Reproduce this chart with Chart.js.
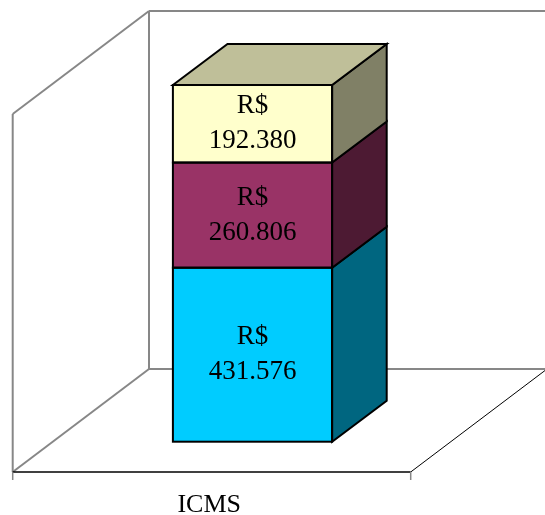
<!DOCTYPE html>
<html>
<head>
<meta charset="utf-8">
<script src="https://cdn.jsdelivr.net/npm/chart.js@4/dist/chart.umd.min.js"></script>
<style>
  html, body { margin: 0; padding: 0; background: #fff; }
  #wrap { width: 545px; height: 515px; position: relative; }
</style>
</head>
<body>
<div id="wrap"><canvas id="c" width="545" height="515"></canvas></div>
<script>
// ---- data ----
const categories = ["ICMS"];
const seriesCyan = [431576];
const seriesPlum = [260806];
const seriesYellow = [192380];
const valuePrefix = "R$";
const axisMax = 888000;

// ---- styles ----
const frontColors = ["#00CCFF", "#993366", "#FFFFCC"];
const sideColors = ["#006680", "#4D1A33", "#808066"];
const topColor = "#BFBF99";
const gridGray = "#878787";
const serif = "'Liberation Serif', 'Times New Roman', serif";

// 3D geometry (relative to the bar front plane)
const FRONT = { dx: -40.8, dy: 30.3 };  // floor front edge offset
const BACK = { dx: 95.5, dy: -72.7 };   // back wall offset
const BAR_DEPTH = { dx: 54.6, dy: -41 }; // bar depth

function fmt(v) {
  const s = String(Math.round(v));
  return s.replace(/\B(?=(\d{3})+(?!\d))/g, ".");
}

function line(ctx, x1, y1, x2, y2, color, w) {
  ctx.beginPath();
  ctx.moveTo(x1, y1);
  ctx.lineTo(x2, y2);
  ctx.strokeStyle = color;
  ctx.lineWidth = w;
  ctx.stroke();
}

const box3d = {
  id: "box3d",
  beforeDatasetsDraw(chart) {
    const ctx = chart.ctx;
    const a = chart.chartArea;
    const L = a.left, R = a.right, T = a.top, B = a.bottom;
    ctx.save();
    ctx.lineCap = "butt";
    const fl = L + FRONT.dx, fr = R + FRONT.dx, fb = B + FRONT.dy, ft = T + FRONT.dy;
    const bl = L + BACK.dx, br = R + BACK.dx, bb = B + BACK.dy, bt = T + BACK.dy;
    // left wall
    line(ctx, fl, ft, fl, fb, gridGray, 2);
    line(ctx, fl, ft, bl, bt, gridGray, 2);
    // back wall
    line(ctx, bl, bt, bl, bb, gridGray, 2);
    line(ctx, bl, bt, br, bt, gridGray, 2);
    // floor
    line(ctx, fl, fb, bl, bb, gridGray, 2);
    line(ctx, bl, bb, br, bb, gridGray, 2);
    line(ctx, fr, fb, br, bb, "#000", 1);
    line(ctx, fl, fb, fr, fb, "#000", 1.3);
    // ticks
    line(ctx, fl, fb, fl, fb + 8, gridGray, 1.5);
    line(ctx, fr, fb, fr, fb + 8, gridGray, 1.5);
    // category label
    const xs = chart.scales.x;
    ctx.fillStyle = "#000";
    ctx.font = "26px " + serif;
    ctx.textAlign = "center";
    ctx.textBaseline = "alphabetic";
    categories.forEach((c, i) => {
      ctx.fillText(c, xs.getPixelForValue(i) + FRONT.dx - 2.5, fb + 40);
    });
    ctx.restore();
  },
  afterDatasetsDraw(chart) {
    const ctx = chart.ctx;
    ctx.save();
    ctx.lineJoin = "miter";
    const n = chart.data.datasets.length;
    chart.data.datasets.forEach((ds, di) => {
      const meta = chart.getDatasetMeta(di);
      meta.data.forEach((bar, i) => {
        const p = bar.getProps(["x", "y", "base", "width"], true);
        const left = p.x - p.width / 2, right = p.x + p.width / 2;
        const top = Math.min(p.y, p.base), bot = Math.max(p.y, p.base);
        ctx.lineWidth = 2;
        ctx.strokeStyle = "#000";
        // side face
        ctx.beginPath();
        ctx.moveTo(right, top);
        ctx.lineTo(right + BAR_DEPTH.dx, top + BAR_DEPTH.dy);
        ctx.lineTo(right + BAR_DEPTH.dx, bot + BAR_DEPTH.dy);
        ctx.lineTo(right, bot);
        ctx.closePath();
        ctx.fillStyle = sideColors[di];
        ctx.fill();
        ctx.stroke();
        // top face
        if (di === n - 1) {
          ctx.beginPath();
          ctx.moveTo(left, top);
          ctx.lineTo(left + BAR_DEPTH.dx, top + BAR_DEPTH.dy);
          ctx.lineTo(right + BAR_DEPTH.dx, top + BAR_DEPTH.dy);
          ctx.lineTo(right, top);
          ctx.closePath();
          ctx.fillStyle = topColor;
          ctx.fill();
          ctx.stroke();
        }
        // front outline
        ctx.strokeRect(left, top, right - left, bot - top);
        // labels
        const cy = (top + bot) / 2;
        ctx.fillStyle = "#000";
        ctx.font = "27px " + serif;
        ctx.textAlign = "center";
        ctx.textBaseline = "middle";
        ctx.fillText(valuePrefix, p.x, cy - 17.5);
        ctx.fillText(fmt(ds.data[i]), p.x, cy + 17.5);
      });
    });
    ctx.restore();
  }
};

new Chart(document.getElementById("c"), {
  type: "bar",
  data: {
    labels: categories,
    datasets: [
      { label: "A", data: seriesCyan, backgroundColor: frontColors[0] },
      { label: "B", data: seriesPlum, backgroundColor: frontColors[1] },
      { label: "C", data: seriesYellow, backgroundColor: frontColors[2] }
    ]
  },
  options: {
    responsive: false,
    animation: false,
    devicePixelRatio: 1,
    layout: { padding: { left: 53.5, right: 93.5, top: 83.7, bottom: 73.3 } },
    datasets: { bar: { borderWidth: 0, categoryPercentage: 1, barPercentage: 0.4 } },
    plugins: { legend: { display: false }, tooltip: { enabled: false } },
    scales: {
      x: { stacked: true, display: false },
      y: { stacked: true, display: false, min: 0, max: axisMax }
    }
  },
  plugins: [box3d]
});
</script>
</body>
</html>
